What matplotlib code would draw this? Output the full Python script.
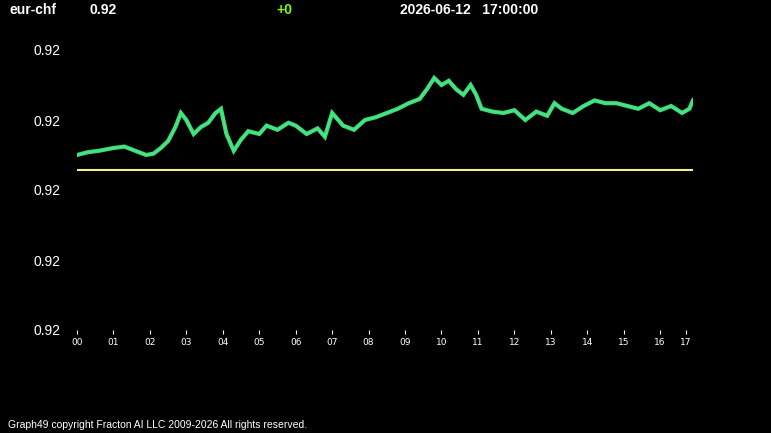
import matplotlib.pyplot as plt

# (hour-axis position, price)
hours = [0, 0.3, 0.6, 1.0, 1.3, 1.6, 1.9, 2.1, 2.3, 2.5, 2.7, 2.85, 3.0, 3.2, 3.4, 3.6, 3.8, 3.95, 4.1, 4.3,
         4.5, 4.7, 5.0, 5.2, 5.5, 5.8, 6.0, 6.3, 6.6, 6.8, 7.0, 7.3, 7.6, 7.9, 8.2, 8.5, 8.8, 9.1, 9.4, 9.6,
         9.8, 10.0, 10.2, 10.4, 10.6, 10.8, 10.95, 11.1, 11.4, 11.7, 12.0, 12.3, 12.6, 12.9, 13.1, 13.3, 13.6,
         13.9, 14.2, 14.5, 14.8, 15.1, 15.4, 15.7, 16.0, 16.3, 16.6, 16.8, 16.9]
prices = [0.91925, 0.91927, 0.91928, 0.91930, 0.91931, 0.91928, 0.91925, 0.91926, 0.91930, 0.91935,
          0.91945, 0.91955, 0.91950, 0.91940, 0.91945, 0.91948, 0.91955, 0.91958, 0.91940, 0.91928,
          0.91936, 0.91942, 0.91940, 0.91946, 0.91943, 0.91948, 0.91946, 0.91940, 0.91944, 0.91938,
          0.91955, 0.91946, 0.91943, 0.91950, 0.91952, 0.91955, 0.91958, 0.91962, 0.91965, 0.91972,
          0.91980, 0.91975, 0.91978, 0.91972, 0.91968, 0.91975, 0.91968, 0.91958, 0.91956, 0.91955,
          0.91957, 0.91950, 0.91956, 0.91953, 0.91962, 0.91958, 0.91955, 0.91960, 0.91964, 0.91962,
          0.91962, 0.91960, 0.91958, 0.91962, 0.91957, 0.91960, 0.91955, 0.91958, 0.91964]
prev_close = 0.91914
tick_labels = ['00', '01', '02', '03', '04', '05', '06', '07', '08', '09', '10', '11', '12', '13', '14', '15', '16', '17']
tick_pos = [0, 1, 2, 3, 4, 5, 6, 7, 8, 9, 10, 11, 12, 13, 14, 15, 16, 16.7]
yticks = [0.9180, 0.9185, 0.9190, 0.9195, 0.9200]

plt.rcParams['font.family'] = ['Liberation Sans', 'DejaVu Sans']
fig = plt.figure(figsize=(7.71, 4.33), dpi=100, facecolor='black')
ax = fig.add_axes([77 / 771, 1 - 330 / 433, (693 - 77) / 771, 280 / 433], facecolor='black')
ax.plot(hours, prices, color='#3ddc7a', lw=3, solid_joinstyle='miter')
ax.plot(hours, prices, color='#4fe88a', lw=1, alpha=0.8)
ax.axhline(prev_close, color='#f0f08c', lw=1.5)
ax.set_xlim(0, 16.9)
ax.set_ylim(0.9180, 0.9200)
ax.set_xticks(tick_pos)
ax.set_xticklabels(tick_labels, color='white', fontsize=6.5, family='DejaVu Sans')
ax.set_yticks(yticks)
ax.set_yticklabels(['0.92'] * 5, color='white', fontsize=10)
ax.tick_params(axis='y', length=0, pad=12)
ax.tick_params(axis='x', colors='white', length=3, pad=3)
for s in ax.spines.values():
    s.set_visible(False)

fig.text(10 / 771, 1 - 10 / 433, 'eur-chf', color='white', fontsize=10, fontweight='bold', va='center')
fig.text(90 / 771, 1 - 10 / 433, '0.92', color='white', fontsize=10, fontweight='bold', va='center')
fig.text(276 / 771, 1 - 10 / 433, '+0', color='#7fff00', fontsize=10, fontweight='bold', va='center')
fig.text(400 / 771, 1 - 10 / 433, '2026-06-12   17:00:00', color='white', fontsize=10, fontweight='bold', va='center')
fig.text(8 / 771, 1 - 425 / 433, 'Graph49 copyright Fracton AI LLC 2009-2026 All rights reserved.',
         color='white', fontsize=7.5, va='center')
fig.savefig('out.png', facecolor='black')
